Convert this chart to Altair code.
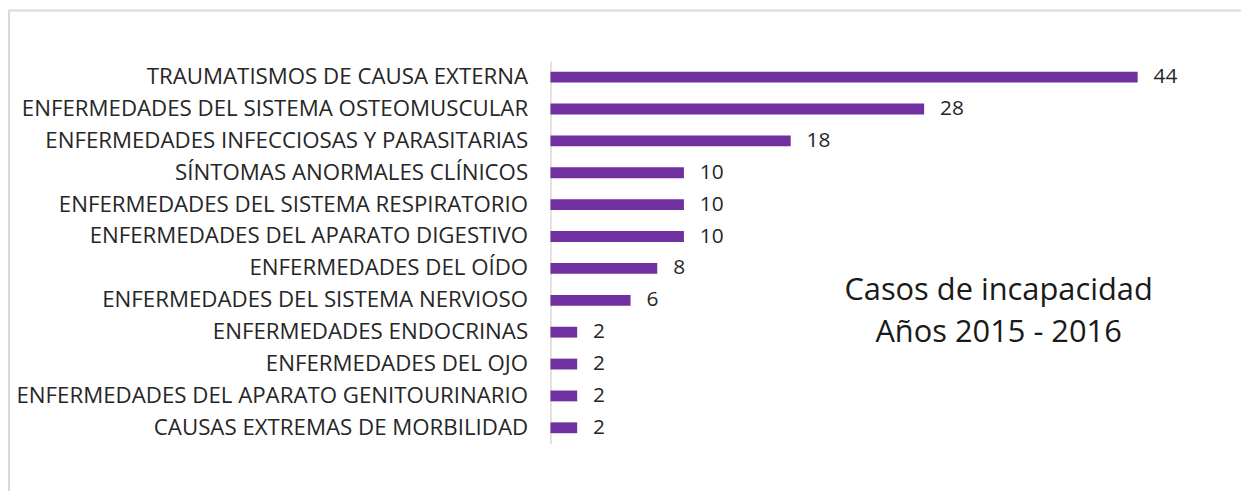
import altair as alt
import pandas as pd

categories = [
    "TRAUMATISMOS DE CAUSA EXTERNA",
    "ENFERMEDADES DEL SISTEMA OSTEOMUSCULAR",
    "ENFERMEDADES INFECCIOSAS Y PARASITARIAS",
    "SÍNTOMAS ANORMALES CLÍNICOS",
    "ENFERMEDADES DEL SISTEMA RESPIRATORIO",
    "ENFERMEDADES DEL APARATO DIGESTIVO",
    "ENFERMEDADES DEL OÍDO",
    "ENFERMEDADES DEL SISTEMA NERVIOSO",
    "ENFERMEDADES ENDOCRINAS",
    "ENFERMEDADES DEL OJO",
    "ENFERMEDADES DEL APARATO GENITOURINARIO",
    "CAUSAS EXTREMAS DE MORBILIDAD",
]
values = [44, 28, 18, 10, 10, 10, 8, 6, 2, 2, 2, 2]
annotation = ["Casos de incapacidad", "Años 2015 - 2016"]

df = pd.DataFrame({"cat": categories, "val": values})

FONT = "Open Sans"
W, H = 591, 385

y = alt.Y("cat:N", sort=categories, title=None,
          scale=alt.Scale(paddingInner=0.66, paddingOuter=0.33),
          axis=alt.Axis(ticks=False, labelPadding=23, labelFontSize=22.4,
                        labelFont=FONT, labelColor="#262626", labelLimit=800,
                        domainColor="#d9d9d9", domainWidth=1.5))
x = alt.X("val:Q", title=None, scale=alt.Scale(domain=[0, 44], nice=False),
          axis=None)

bars = alt.Chart(df).mark_bar(color="#7030A0").encode(x=x, y=y)
labels = alt.Chart(df).mark_text(align="left", dx=16, fontSize=21, font=FONT,
                                 color="#262626").encode(x=x, y=y, text="val:Q")

frame = alt.Chart(pd.DataFrame({"a": [0]})).mark_rect(
    fill=None, stroke="#d9d9d9", strokeWidth=2, clip=False
).encode(x=alt.value(-545), x2=alt.value(W + 400),
         y=alt.value(-51), y2=alt.value(H + 100))

note1 = alt.Chart(pd.DataFrame({"t": [annotation[0]]})).mark_text(
    fontSize=31, font=FONT, color="#1a1a1a", align="center", baseline="middle"
).encode(x=alt.value(451), y=alt.value(231), text="t")
note2 = alt.Chart(pd.DataFrame({"t": [annotation[1]]})).mark_text(
    fontSize=31, font=FONT, color="#1a1a1a", align="center", baseline="middle"
).encode(x=alt.value(451), y=alt.value(274), text="t")

chart = alt.layer(frame, bars, labels, note1, note2).properties(
    width=W, height=H,
    autosize=alt.AutoSizeParams(type="none"),
    padding={"left": 546, "top": 52, "right": 104, "bottom": 46},
).configure_view(stroke=None)

chart.save("out.html", embed_options={"renderer": "svg", "actions": False})
